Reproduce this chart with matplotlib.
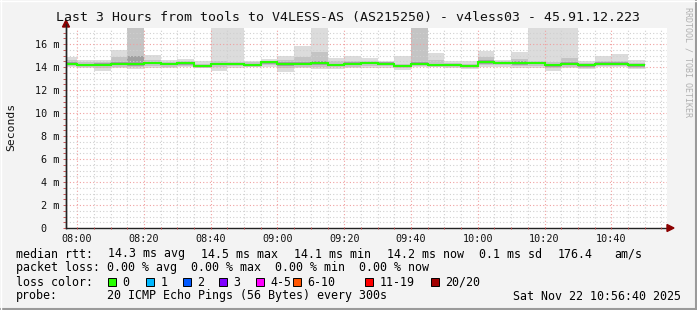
import matplotlib
matplotlib.use("Agg")
import matplotlib.pyplot as plt
import matplotlib.dates as mdates
import pandas as pd
from matplotlib.patches import Rectangle, Polygon
from matplotlib.ticker import MultipleLocator, FixedLocator

W, H = 697, 310
MONO = "DejaVu Sans Mono"

# 5-minute rrd steps, 07:55 .. 10:45 (last one ends 10:50)
seg_start = pd.date_range("2025-11-22 07:55", periods=35, freq="5min")

median = [14.30, 14.20, 14.20, 14.26, 14.26, 14.38, 14.25, 14.32, 14.08, 14.29,
          14.29, 14.20, 14.40, 14.26, 14.26, 14.38, 14.20, 14.29, 14.35, 14.25,
          14.08, 14.26, 14.20, 14.20, 14.10, 14.41, 14.35, 14.35, 14.35, 14.14,
          14.26, 14.14, 14.29, 14.29, 14.20]
# outer smoke (lightest)
hi1 = [14.90, 14.65, 14.60, 15.50, 18.00, 15.05, 14.60, 14.70, 14.50, 18.00,
       18.00, 14.55, 14.70, 14.95, 15.85, 18.00, 14.75, 14.95, 14.75, 14.55,
       14.95, 18.00, 15.20, 14.50, 14.50, 15.40, 14.65, 15.30, 18.00, 18.00,
       18.00, 14.55, 14.95, 15.15, 14.60]
lo1 = [14.00, 13.90, 13.70, 13.90, 13.85, 13.95, 13.95, 14.00, 13.90, 13.70,
       13.95, 14.00, 14.00, 13.60, 13.90, 13.85, 13.80, 13.90, 13.95, 13.95,
       13.75, 14.00, 14.00, 13.95, 13.85, 14.00, 14.00, 13.95, 13.95, 13.70,
       13.95, 13.85, 14.00, 14.00, 13.80]
# middle smoke
hi2 = [14.60, 14.40, 14.45, 14.85, 18.00, 14.60, 14.40, 14.50, 14.30, 14.50,
       14.45, 14.40, 14.55, 14.60, 14.85, 15.30, 14.50, 14.55, 14.50, 14.45,
       14.30, 18.00, 14.60, 14.35, 14.30, 14.90, 14.50, 14.70, 14.50, 14.40,
       14.80, 14.35, 14.50, 14.55, 14.35]
lo2 = [14.10, 14.05, 13.95, 14.05, 14.00, 14.10, 14.05, 14.10, 13.95, 14.00,
       14.10, 14.05, 14.15, 13.95, 14.05, 14.05, 14.00, 14.05, 14.10, 14.10,
       13.90, 14.10, 14.05, 14.05, 13.95, 14.15, 14.15, 14.10, 14.10, 13.90,
       14.05, 13.95, 14.10, 14.10, 13.95]
# inner smoke (darkest, around the median)
hi3 = [14.42, 14.30, 14.32, 14.40, 14.95, 14.45, 14.35, 14.40, 14.20, 14.38,
       14.36, 14.30, 14.48, 14.40, 14.45, 14.50, 14.30, 14.40, 14.45, 14.40,
       14.18, 14.40, 14.30, 14.28, 14.20, 14.60, 14.45, 14.55, 14.45, 14.25,
       14.40, 14.25, 14.40, 14.40, 14.28]
lo3 = [14.20, 14.12, 14.08, 14.15, 14.12, 14.25, 14.15, 14.20, 14.02, 14.15,
       14.20, 14.12, 14.28, 14.10, 14.15, 14.20, 14.10, 14.15, 14.25, 14.15,
       13.98, 14.18, 14.12, 14.12, 14.02, 14.30, 14.25, 14.22, 14.25, 14.02,
       14.15, 14.05, 14.20, 14.20, 14.05]

y_ticks = [0, 2, 4, 6, 8, 10, 12, 14, 16]
y_labels = ["0  ", "2 m", "4 m", "6 m", "8 m", "10 m", "12 m", "14 m", "16 m"]

stats_rtt = [("14.3 ms avg", 108), ("14.5 ms max", 201), ("14.1 ms min", 294),
             ("14.2 ms now", 387), ("0.1 ms sd", 479), ("176.4", 558), ("am/s", 614)]
loss_line = "packet loss: 0.00 % avg  0.00 % max  0.00 % min  0.00 % now"
loss_labels = ["0", "1", "2", "3", "4-5", "6-10", "11-19", "20/20"]
loss_colors = ["#26ff00", "#00b8ff", "#0059ff", "#7e00ff", "#ff00fe",
               "#ff5500", "#ff0000", "#a10000"]
loss_box_x = [108, 146, 183, 219, 256, 293, 365, 431]


def fx(x):
    return x / W


def fy(y):
    return 1 - y / H


fig = plt.figure(figsize=(W / 100, H / 100), dpi=100)
fig.patch.set_facecolor("#f3f3f3")

ax = fig.add_axes([fx(66), fy(228), 601 / W, 200 / H])
ax.set_facecolor("white")

edges = mdates.date2num(list(seg_start) + [seg_start[-1] + pd.Timedelta("5min")])
ax.stairs(hi1, edges, baseline=lo1, fill=True, color="#dcdcdc", lw=0, zorder=1)
ax.stairs(hi2, edges, baseline=lo2, fill=True, color="#c4c4c4", lw=0, zorder=1.1)
ax.stairs(hi3, edges, baseline=lo3, fill=True, color="#a0a0a0", lw=0, zorder=1.2)
ax.stairs(median, edges, baseline=None, color="#26ff00", lw=1.5, zorder=3)

t0 = pd.Timestamp("2025-11-22 07:56:40")
t1 = pd.Timestamp("2025-11-22 10:56:40")
ax.set_xlim(mdates.date2num(t0), mdates.date2num(t1))
ax.set_ylim(0, 17.4)

ax.xaxis.set_major_locator(mdates.MinuteLocator(byminute=[0, 20, 40]))
ax.xaxis.set_minor_locator(mdates.MinuteLocator(byminute=range(0, 60, 5)))
ax.xaxis.set_major_formatter(mdates.DateFormatter("%H:%M"))
ax.yaxis.set_major_locator(FixedLocator(y_ticks))
ax.set_yticklabels(y_labels)
ax.yaxis.set_minor_locator(MultipleLocator(0.5))

ax.grid(which="minor", color="#d0d0d0", lw=0.8, ls=(0, (1, 2)), zorder=2)
ax.grid(which="major", color="#f0a0a0", lw=0.8, ls=(0, (1, 2)), zorder=2)
ax.set_axisbelow(False)

for s in ("top", "right"):
    ax.spines[s].set_visible(False)
for s in ("left", "bottom"):
    ax.spines[s].set_color("#222222")
    ax.spines[s].set_linewidth(1.0)

ax.tick_params(which="both", length=2, width=0.6, color="#c04040",
               labelsize=7.3, labelcolor="#111111", pad=3)
ax.tick_params(axis="x", which="both", direction="inout")
for lab in ax.get_xticklabels() + ax.get_yticklabels():
    lab.set_family(MONO)

# axis arrows
fig.patches.append(Polygon([[fx(667), fy(224.5)], [fx(674), fy(228)], [fx(667), fy(231.5)]],
                           closed=True, color="#8b0000", transform=fig.transFigure))
fig.patches.append(Polygon([[fx(62.5), fy(27)], [fx(66), fy(20)], [fx(69.5), fy(27)]],
                           closed=True, color="#8b0000", transform=fig.transFigure))
fig.add_artist(plt.Line2D([fx(66), fx(66)], [fy(228), fy(24)], color="#222222", lw=1.0))

fig.text(fx(348), fy(18), "Last 3 Hours from tools to V4LESS-AS (AS215250) - v4less03 - 45.91.12.223",
         family=MONO, fontsize=9.55, ha="center", va="center", color="#111111")
fig.text(fx(11), fy(127), "Seconds", family=MONO, fontsize=8.2, rotation=90,
         ha="center", va="center", color="#111111")
fig.text(fx(688), fy(62), "RRDTOOL / TOBI OETIKER", family=MONO, fontsize=6.0,
         rotation=270, ha="center", va="center", color="#b0b0b0")

lf = 8.4
fig.text(fx(16), fy(254), "median rtt:", family=MONO, fontsize=lf, va="center")
for txt, x in stats_rtt:
    fig.text(fx(x), fy(254), txt, family=MONO, fontsize=lf, va="center")
fig.text(fx(16), fy(268), loss_line, family=MONO, fontsize=lf, va="center")
fig.text(fx(16), fy(282), "loss color:", family=MONO, fontsize=lf, va="center")
for lab, col, x in zip(loss_labels, loss_colors, loss_box_x):
    fig.patches.append(Rectangle((fx(x), fy(286)), 8 / W, 8 / H, facecolor=col,
                                 edgecolor="black", lw=0.7, transform=fig.transFigure))
    fig.text(fx(x + 14.5), fy(282), lab, family=MONO, fontsize=lf, va="center")
fig.text(fx(16), fy(296), "probe:", family=MONO, fontsize=lf, va="center")
fig.text(fx(107), fy(296), "20 ICMP Echo Pings (56 Bytes) every 300s", family=MONO,
         fontsize=lf, va="center")
fig.text(fx(513), fy(296), "Sat Nov 22 10:56:40 2025", family=MONO, fontsize=lf, va="center")

# canvas frame shading
fig.add_artist(plt.Line2D([fx(0.5), fx(696.5)], [fy(309), fy(309)], color="#9a9a9a", lw=1.5))
fig.add_artist(plt.Line2D([fx(696), fx(696)], [fy(0), fy(310)], color="#9a9a9a", lw=1.5))
fig.add_artist(plt.Line2D([fx(0.5), fx(0.5)], [fy(0), fy(310)], color="#ffffff", lw=1.0))
fig.add_artist(plt.Line2D([fx(0), fx(697)], [fy(0.5), fy(0.5)], color="#ffffff", lw=1.0))

fig.savefig("out.png", dpi=100, facecolor=fig.get_facecolor())
